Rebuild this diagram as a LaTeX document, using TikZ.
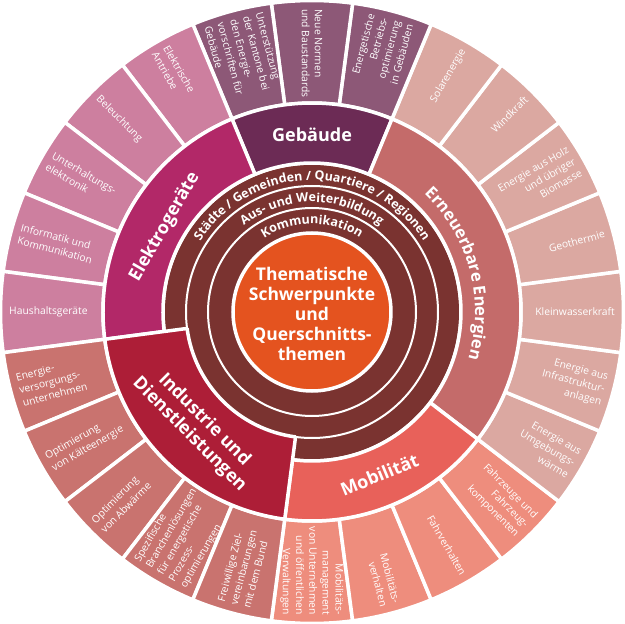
\documentclass[tikz,border=0pt]{standalone}
\usepackage{fontspec}
\setmainfont{Open Sans}
\usetikzlibrary{decorations.text}
\definecolor{ringdark}{HTML}{7A3330}
\definecolor{centerorange}{HTML}{E4531F}
\definecolor{gebM}{HTML}{6C2B55}
\definecolor{gebO}{HTML}{8D5877}
\definecolor{eleM}{HTML}{B22868}
\definecolor{eleO}{HTML}{CD7F9F}
\definecolor{ernM}{HTML}{C46B6A}
\definecolor{ernO}{HTML}{DBA8A1}
\definecolor{mobM}{HTML}{E8615A}
\definecolor{mobO}{HTML}{EE8D7D}
\definecolor{indM}{HTML}{AD1E37}
\definecolor{indO}{HTML}{C9736F}
\tikzset{
  whiteedge/.style={draw=white, line width=3.5pt, line join=round},
  segtxt/.style={text=white, font=\fontsize{10.3}{13.2}\selectfont, inner sep=0pt},
  seclbl/.style={text=white, font=\fontsize{18}{21}\selectfont\bfseries, inner sep=0pt},
  ringline/.style={draw=white, line width=2pt}
}
\newcommand\annsec[5]{%
  \path[whiteedge, fill=#1] ({#2}:#4) arc[start angle={#2}, end angle={#3}, radius=#4]
    -- ({#3}:#5) arc[start angle={#3}, end angle={#2}, radius=#5] -- cycle;}
\newcommand\segR[3]{\node[segtxt, anchor=east, align=right, rotate=#2] (#1) at (#2:303) {#3};}
\newcommand\segL[3]{\node[segtxt, anchor=west, align=left, rotate=#2+180] (#1) at (#2:303) {#3};}
\begin{document}
\begin{tikzpicture}[x=1pt, y=1pt]
\useasboundingbox (-312,-312) rectangle (312,312);
\fill[white] (-312,-312) rectangle (312,312);
% outer ring
\foreach \a/\c in {-97.5/mobO, -82.5/mobO, -67.5/mobO, -52.5/mobO,
  -37.5/ernO, -22.5/ernO, -7.5/ernO, 7.5/ernO, 22.5/ernO, 37.5/ernO, 52.5/ernO,
  67.5/gebO, 82.5/gebO, 97.5/gebO,
  112.5/eleO, 127.5/eleO, 142.5/eleO, 157.5/eleO, 172.5/eleO,
  187.5/indO, 202.5/indO, 217.5/indO, 232.5/indO, 247.5/indO}
  {\annsec{\c}{\a}{\a+15}{209}{311.5}}
% dark disc
\path[whiteedge, fill=ringdark] (0,0) circle[radius=149];
% middle ring
\annsec{gebM}{67.5}{112.5}{149}{209}
\annsec{ernM}{-37.5}{67.5}{149}{209}
\annsec{mobM}{-97.5}{-37.5}{149}{209}
\annsec{eleM}{112.5}{187.5}{149}{209}
\annsec{indM}{187.5}{262.5}{126}{209}
% ring lines
\draw[ringline] (0,0) circle[radius=126];
\draw[ringline] (0,0) circle[radius=104];
\path[whiteedge, fill=centerorange] (0,0) circle[radius=79];
% center text
\node[text=white, font=\fontsize{17.5}{20}\selectfont\bfseries, align=center, inner sep=0pt] (center) at (0,-2)
  {Thematische\\Schwerpunkte\\und\\Querschnitts-\\themen};
% ring texts
\path[decorate, decoration={text along path, text align=center, text color=white,
  text={|\fontsize{12.5}{15}\selectfont\bfseries|Städte / Gemeinden / Quartiere / Regionen}}]
  (180:132) arc[start angle=180, end angle=0, radius=132];
\path[decorate, decoration={text along path, text align=center, text color=white,
  text={|\fontsize{12.5}{15}\selectfont\bfseries|Aus- und Weiterbildung}}]
  (180:110) arc[start angle=180, end angle=0, radius=110];
\path[decorate, decoration={text along path, text align=center, text color=white,
  text={|\fontsize{12.5}{15}\selectfont\bfseries|Kommunikation}}]
  (180:88) arc[start angle=180, end angle=0, radius=88];
% sector labels
\node[seclbl] (geb) at (90:177) {Gebäude};
\node[seclbl, rotate=60] (ele) at (150:170) {Elektrogeräte};
\node[seclbl, rotate=-45, align=center] (ind) at (225:163) {Industrie und\\Dienstleistungen};
\node[seclbl, rotate=22.5] (mob) at (-67.5:176) {Mobilität};
\path[decorate, decoration={text along path, text align=center, text color=white,
  text={|\fontsize{16.5}{20}\selectfont\bfseries|Erneuerbare Energien}}]
  (74:163) arc[start angle=74, end angle=-44, radius=163];
% outer texts
\segL{g1}{105}{Unterstützung\\der Kantone bei\\den Energie-\\vorschriften für\\Gebäude}
\segL{g2}{90}{Neue Normen\\und Baustandards}
\segR{g3}{75}{Energetische\\Betriebs-\\optimierung\\in Gebäuden}
\segR{e1}{60}{Solarenergie}
\segR{e2}{45}{Windkraft}
\segR{e3}{30}{Energie aus Holz\\und übriger\\Biomasse}
\segR{e4}{15}{Geothermie}
\segR{e5}{0}{Kleinwasserkraft}
\segR{e6}{-15}{Energie aus\\Infrastruktur-\\anlagen}
\segR{e7}{-30}{Energie aus\\Umgebungs-\\wärme}
\segR{m1}{-45}{Fahrzeuge und\\Fahrzeug-\\komponenten}
\segR{m2}{-60}{Fahrverhalten}
\segR{m3}{-75}{Mobilitäts-\\verhalten}
\segR{m4}{-90}{Mobilitäts-\\management\\von Unternehmen\\und öffentlichen\\Verwaltungen}
\segL{i1}{255}{Freiwillige Ziel-\\vereinbarungen\\mit dem Bund}
\segL{i2}{240}{Spezifische\\Branchenlösungen\\für energetische\\Prozess-\\optimierungen}
\segL{i3}{225}{Optimierung\\von Abwärme}
\segL{i4}{210}{Optimierung\\von Kälteenergie}
\segL{i5}{195}{Energie-\\versorgungs-\\unternehmen}
\segL{l1}{180}{Haushaltsgeräte}
\segL{l2}{165}{Informatik und\\Kommunikation}
\segL{l3}{150}{Unterhaltungs-\\elektronik}
\segL{l4}{135}{Beleuchtung}
\segL{l5}{120}{Elektrische\\Antriebe}
\end{tikzpicture}
\end{document}
